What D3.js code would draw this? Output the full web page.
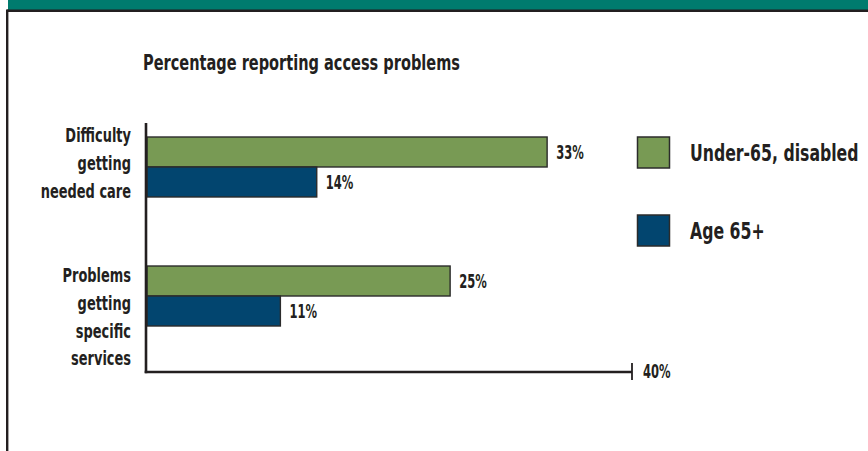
<!DOCTYPE html>
<html><head><meta charset="utf-8">
<script src="https://cdn.jsdelivr.net/npm/d3@7"></script>
<style>body{margin:0;background:#fff} svg{display:block}</style>
</head><body>
<svg id="c" width="868" height="451"></svg>
<script>
// ---- data ----
const categories = ["Difficulty getting needed care", "Problems getting specific services"];
const categoryLines = [["Difficulty", "getting", "needed care"], ["Problems", "getting", "specific", "services"]];
const seriesNames = ["Under-65, disabled", "Age 65+"];
const under65Disabled = [33, 25];
const age65Plus = [14, 11];
const xTickValues = [40];
const chartTitle = "Percentage reporting access problems";
const seriesColors = ["#789a54", "#02456f"];

// ---- layout ----
const W = 868, H = 451;
const font = "'DejaVu Sans Condensed','DejaVu Sans',sans-serif";
const ink = "#231f20";
const svg = d3.select("#c");

// condensed text helper: horizontally squeezed around its anchor point
function ctext(parent, x, y, str, size, sx, anchor) {
  const g = parent.append("g").attr("transform", `translate(${x},${y}) scale(${sx},1)`);
  return g.append("text").attr("x", 0).attr("y", 0).attr("text-anchor", anchor || "start")
    .attr("font-family", font).attr("font-weight", "bold").attr("font-size", size)
    .attr("fill", ink).text(str);
}

// frame / banner
svg.append("rect").attr("x", 8).attr("y", 0).attr("width", W - 8).attr("height", 10).attr("fill", "#007b6e");
svg.append("line").attr("x1", 7).attr("x2", W).attr("y1", 10.8).attr("y2", 10.8).attr("stroke", ink).attr("stroke-width", 2.6);
svg.append("line").attr("x1", 7.2).attr("x2", 7.2).attr("y1", 9.5).attr("y2", H).attr("stroke", ink).attr("stroke-width", 2.4);

// scales
const x = d3.scaleLinear().domain([0, 40]).range([147, 632]);
const y = d3.scaleBand().domain(categories).range([137, 326]).paddingInner(0.535).paddingOuter(0);
const ySub = d3.scaleBand().domain(seriesNames).range([0, y.bandwidth()]).padding(0);

const rows = categories.map((c, i) => ({cat: c, i, vals: [under65Disabled[i], age65Plus[i]]}));

// title
ctext(svg, 143, 69.5, chartTitle, 21, 0.77);

// bars
const g = svg.append("g");
rows.forEach(r => {
  r.vals.forEach((v, s) => {
    const yy = y(r.cat) + ySub(seriesNames[s]);
    g.append("rect").attr("x", x(0)).attr("y", yy)
      .attr("width", x(v) - x(0)).attr("height", ySub.bandwidth())
      .attr("fill", seriesColors[s]).attr("stroke", "#2b2b2b").attr("stroke-width", 1.4);
    ctext(g, x(v) + 9, yy + ySub.bandwidth() / 2 + 7, v + "%", 20, 0.64);
  });
});

// category labels
const labelShift = [5.5, 16];
rows.forEach(r => {
  const grp = svg.append("g").attr("transform", `translate(131,0) scale(0.75,1)`);
  const t = grp.append("text").attr("text-anchor", "end").attr("font-family", font)
    .attr("font-weight", "bold").attr("font-size", 19.2).attr("fill", ink);
  categoryLines[r.i].forEach((ln, k) => {
    t.append("tspan").attr("x", 0).attr("y", y(r.cat) + labelShift[r.i] + k * 27.8).text(ln);
  });
});

// axes
const yTop = 123, yBot = 372;
svg.append("line").attr("x1", x(0) - 1).attr("x2", x(0) - 1).attr("y1", yTop).attr("y2", yBot + 1.2)
  .attr("stroke", ink).attr("stroke-width", 2.6);
svg.append("line").attr("x1", x(0) - 2.3).attr("x2", x(40)).attr("y1", yBot).attr("y2", yBot)
  .attr("stroke", ink).attr("stroke-width", 2.6);
xTickValues.forEach(tv => {
  svg.append("line").attr("x1", x(tv)).attr("x2", x(tv)).attr("y1", yBot - 9).attr("y2", yBot + 8)
    .attr("stroke", ink).attr("stroke-width", 1.8);
  ctext(svg, x(tv) + 11, yBot + 6, tv + "%", 20, 0.64);
});

// legend
const legY = [137, 215];
seriesNames.forEach((s, i) => {
  svg.append("rect").attr("x", 637.5).attr("y", legY[i]).attr("width", 32).attr("height", 31)
    .attr("fill", seriesColors[i]).attr("stroke", "#2b2b2b").attr("stroke-width", 1.5);
  ctext(svg, 690, legY[i] + 24, s, 23, 0.76);
});
</script>
</body></html>
